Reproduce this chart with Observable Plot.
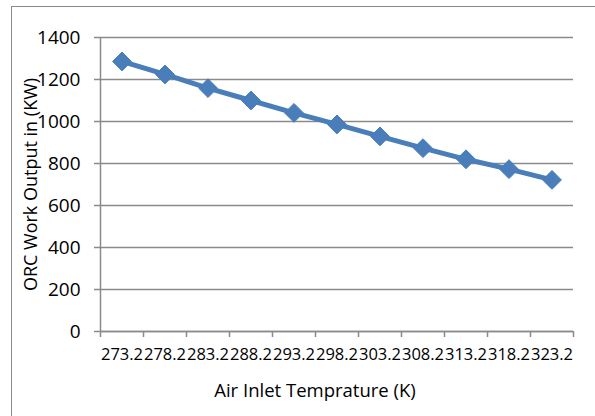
<!DOCTYPE html>
<html>
<head>
<meta charset="utf-8">
<script src="https://cdn.jsdelivr.net/npm/d3@7"></script>
<script src="https://cdn.jsdelivr.net/npm/@observablehq/plot@0.6"></script>
<style>
  html, body { margin: 0; padding: 0; background: #fff; }
  #wrap { position: relative; width: 595px; height: 416px; overflow: hidden; }
  #border { position: absolute; left: 11px; top: 6px; width: 620px; height: 440px; border: 1.5px solid #8a8a8a; box-sizing: border-box; pointer-events: none; }
  svg { font-family: "Open Sans", "Noto Sans", sans-serif; }
</style>
</head>
<body>
<div id="wrap"><div id="chart"></div><div id="border"></div></div>
<script>
const temperatures = [273.2, 278.2, 283.2, 288.2, 293.2, 298.2, 303.2, 308.2, 313.2, 318.2, 323.2];
const workOutput = [1286, 1224, 1159, 1100, 1041, 986, 929, 873, 820, 773, 722];
const yTicks = [0, 200, 400, 600, 800, 1000, 1200, 1400];
const xTitle = "Air Inlet Temprature (K)";
const yTitle = "ORC Work Output in (KW)";

const data = temperatures.map((t, i) => ({t, w: workOutput[i]}));
const step = temperatures[1] - temperatures[0];
const x0 = temperatures[0] - step / 2;
const x1 = temperatures[temperatures.length - 1] + step / 2;
const boundaries = d3.range(temperatures.length + 1).map(i => x0 + i * step);

const grey = "#8a8a8a";
const blue = "#4a7ebb";

const chart = Plot.plot({
  width: 595,
  height: 416,
  marginLeft: 100,
  marginRight: 22,
  marginTop: 37,
  marginBottom: 85,
  style: {background: "transparent", fontFamily: "'Open Sans', 'Noto Sans', sans-serif", color: "#000"},
  x: {type: "linear", domain: [x0, x1]},
  y: {domain: [0, 1400]},
  marks: [
    Plot.gridY(yTicks, {stroke: grey, strokeOpacity: 1, strokeWidth: 1.5}),
    Plot.ruleX([x0], {stroke: grey, strokeWidth: 1.5}),
    Plot.ruleY([0], {stroke: grey, strokeWidth: 1.5}),
    Plot.axisY(yTicks, {tickSize: 6, tickPadding: 14, stroke: grey, strokeWidth: 1.5, fontSize: 19, fill: "#000", label: null, tickFormat: d => String(d)}),
    Plot.axisX(boundaries, {tickSize: 6, stroke: grey, strokeWidth: 1.5, tickFormat: () => "", label: null}),
    Plot.axisX(temperatures, {tickSize: 0, tickPadding: 17, fontSize: 16.5, fill: "#000", label: null, tickFormat: d => d.toFixed(1)}),
    Plot.line(data, {x: "t", y: "w", stroke: blue, strokeWidth: 5}),
    Plot.dot(data, {x: "t", y: "w", symbol: "diamond2", r: 8.5, fill: blue, stroke: blue, strokeWidth: 1}),
    Plot.text([yTitle], {frameAnchor: "left", textAnchor: "middle", dx: -69, rotate: -90, fontSize: 18, fontWeight: "normal", fill: "#000"}),
    Plot.text([xTitle], {frameAnchor: "bottom", textAnchor: "middle", dy: 65, dx: -22, fontSize: 18.5, fontWeight: "normal", fill: "#000"})
  ]
});
document.getElementById("chart").appendChild(chart);
</script>
</body>
</html>
